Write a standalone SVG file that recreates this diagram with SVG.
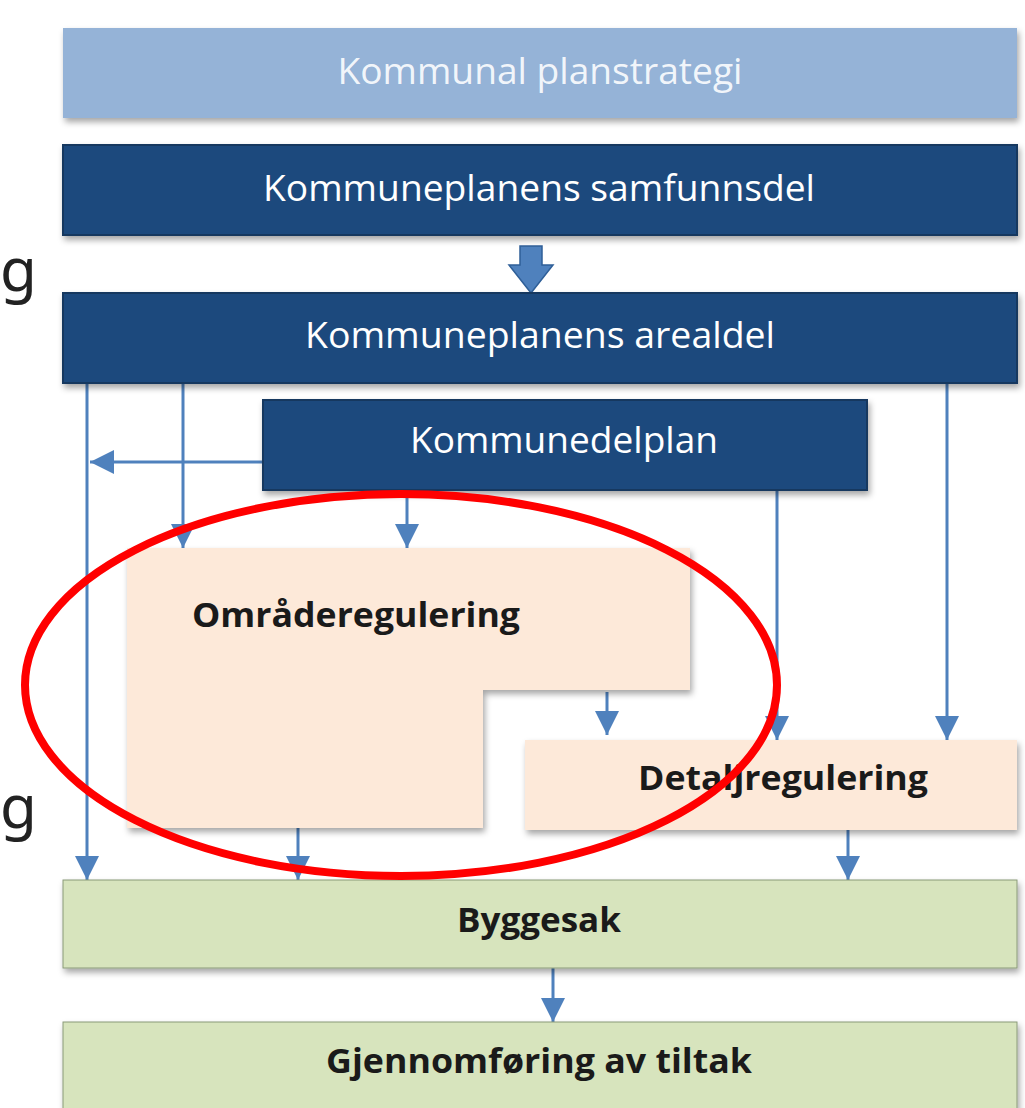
<svg xmlns="http://www.w3.org/2000/svg" width="1025" height="1108" viewBox="0 0 1025 1108">
<defs>
<style>
.lt{fill:#95b3d7}
.dk{fill:#1f497d;stroke:#17375e;stroke-width:2}
.pe{fill:#fde9d9}
.gr{fill:#d7e4bd;stroke:#8a9a78;stroke-width:1}
.tw{font-family:"Open Sans","Liberation Sans",sans-serif;font-size:36px;fill:#ffffff;text-anchor:middle}
.tb{font-family:"Open Sans","Liberation Sans",sans-serif;font-size:34px;font-weight:bold;fill:#1a1a1a}
.ln{stroke:#4f81bd;stroke-width:3;fill:none}
.g{font-family:"Noto Sans","DejaVu Sans",sans-serif;font-size:60px;fill:#222222}
</style>
<marker id="a" viewBox="0 0 10 10" refX="10" refY="5" markerWidth="8" markerHeight="8" orient="auto">
<path d="M0,0 L10,5 L0,10 z" fill="#4f81bd"/>
</marker>
<filter id="sh" x="-5%" y="-10%" width="110%" height="130%">
<feDropShadow dx="2" dy="4" stdDeviation="3" flood-color="#000000" flood-opacity="0.35"/>
</filter>
</defs>
<rect width="1025" height="1108" fill="#ffffff"/>

<text class="g" x="0" y="291">g</text>
<text class="g" x="0" y="828">g</text>

<g id="connectors">
<line class="ln" x1="87" y1="383" x2="87" y2="880" marker-end="url(#a)"/>
<line class="ln" x1="183" y1="383" x2="183" y2="548" marker-end="url(#a)"/>
<line class="ln" x1="263" y1="462" x2="90" y2="462" marker-end="url(#a)"/>
<line class="ln" x1="407" y1="490" x2="407" y2="548" marker-end="url(#a)"/>
<line class="ln" x1="777" y1="490" x2="777" y2="740" marker-end="url(#a)"/>
<line class="ln" x1="947" y1="383" x2="947" y2="740" marker-end="url(#a)"/>
<line class="ln" x1="607" y1="692" x2="607" y2="735" marker-end="url(#a)"/>
<line class="ln" x1="298" y1="828" x2="298" y2="880" marker-end="url(#a)"/>
<line class="ln" x1="848" y1="830" x2="848" y2="880" marker-end="url(#a)"/>
<line class="ln" x1="553" y1="968" x2="553" y2="1022" marker-end="url(#a)"/>
<path d="M520,246 H542 V265 H553 L531,293 L509,265 H520 Z" fill="#4f81bd" stroke="#2f5f98" stroke-width="1.5"/>
</g>

<g id="n1"><rect class="lt" x="63" y="28" width="954" height="90" filter="url(#sh)"/>
<text class="tw" x="540" y="84" textLength="405" lengthAdjust="spacingAndGlyphs" fill-opacity="0.9">Kommunal planstrategi</text></g>

<g id="n2"><rect class="dk" x="63" y="145" width="954" height="90" filter="url(#sh)"/>
<text class="tw" x="539" y="201" textLength="552" lengthAdjust="spacingAndGlyphs">Kommuneplanens samfunnsdel</text></g>

<g id="n3"><rect class="dk" x="63" y="293" width="954" height="90" filter="url(#sh)"/>
<text class="tw" x="540" y="348" textLength="470" lengthAdjust="spacingAndGlyphs">Kommuneplanens arealdel</text></g>

<g id="n4"><rect class="dk" x="263" y="400" width="604" height="90" filter="url(#sh)"/>
<text class="tw" x="564" y="453" textLength="308" lengthAdjust="spacingAndGlyphs">Kommunedelplan</text></g>

<g id="n5"><path class="pe" d="M127,548 H690 V690 H483 V828 H127 Z" filter="url(#sh)"/>
<text class="tb" x="192" y="627" textLength="328" lengthAdjust="spacingAndGlyphs">Områderegulering</text></g>

<g id="n6"><rect class="pe" x="525" y="740" width="492" height="90" filter="url(#sh)"/>
<text class="tb" x="638" y="790" textLength="290" lengthAdjust="spacingAndGlyphs">Detaljregulering</text></g>

<g id="n7"><rect class="gr" x="63" y="880" width="954" height="88" filter="url(#sh)"/>
<text class="tb" x="539" y="932" text-anchor="middle" textLength="164" lengthAdjust="spacingAndGlyphs">Byggesak</text></g>

<g id="n8"><rect class="gr" x="63" y="1022" width="954" height="100" filter="url(#sh)"/>
<text class="tb" x="539" y="1073" text-anchor="middle" textLength="426" lengthAdjust="spacingAndGlyphs">Gjennomføring av tiltak</text></g>

<ellipse cx="401" cy="685" rx="376" ry="191" fill="none" stroke="#ff0000" stroke-width="8"/>
</svg>
